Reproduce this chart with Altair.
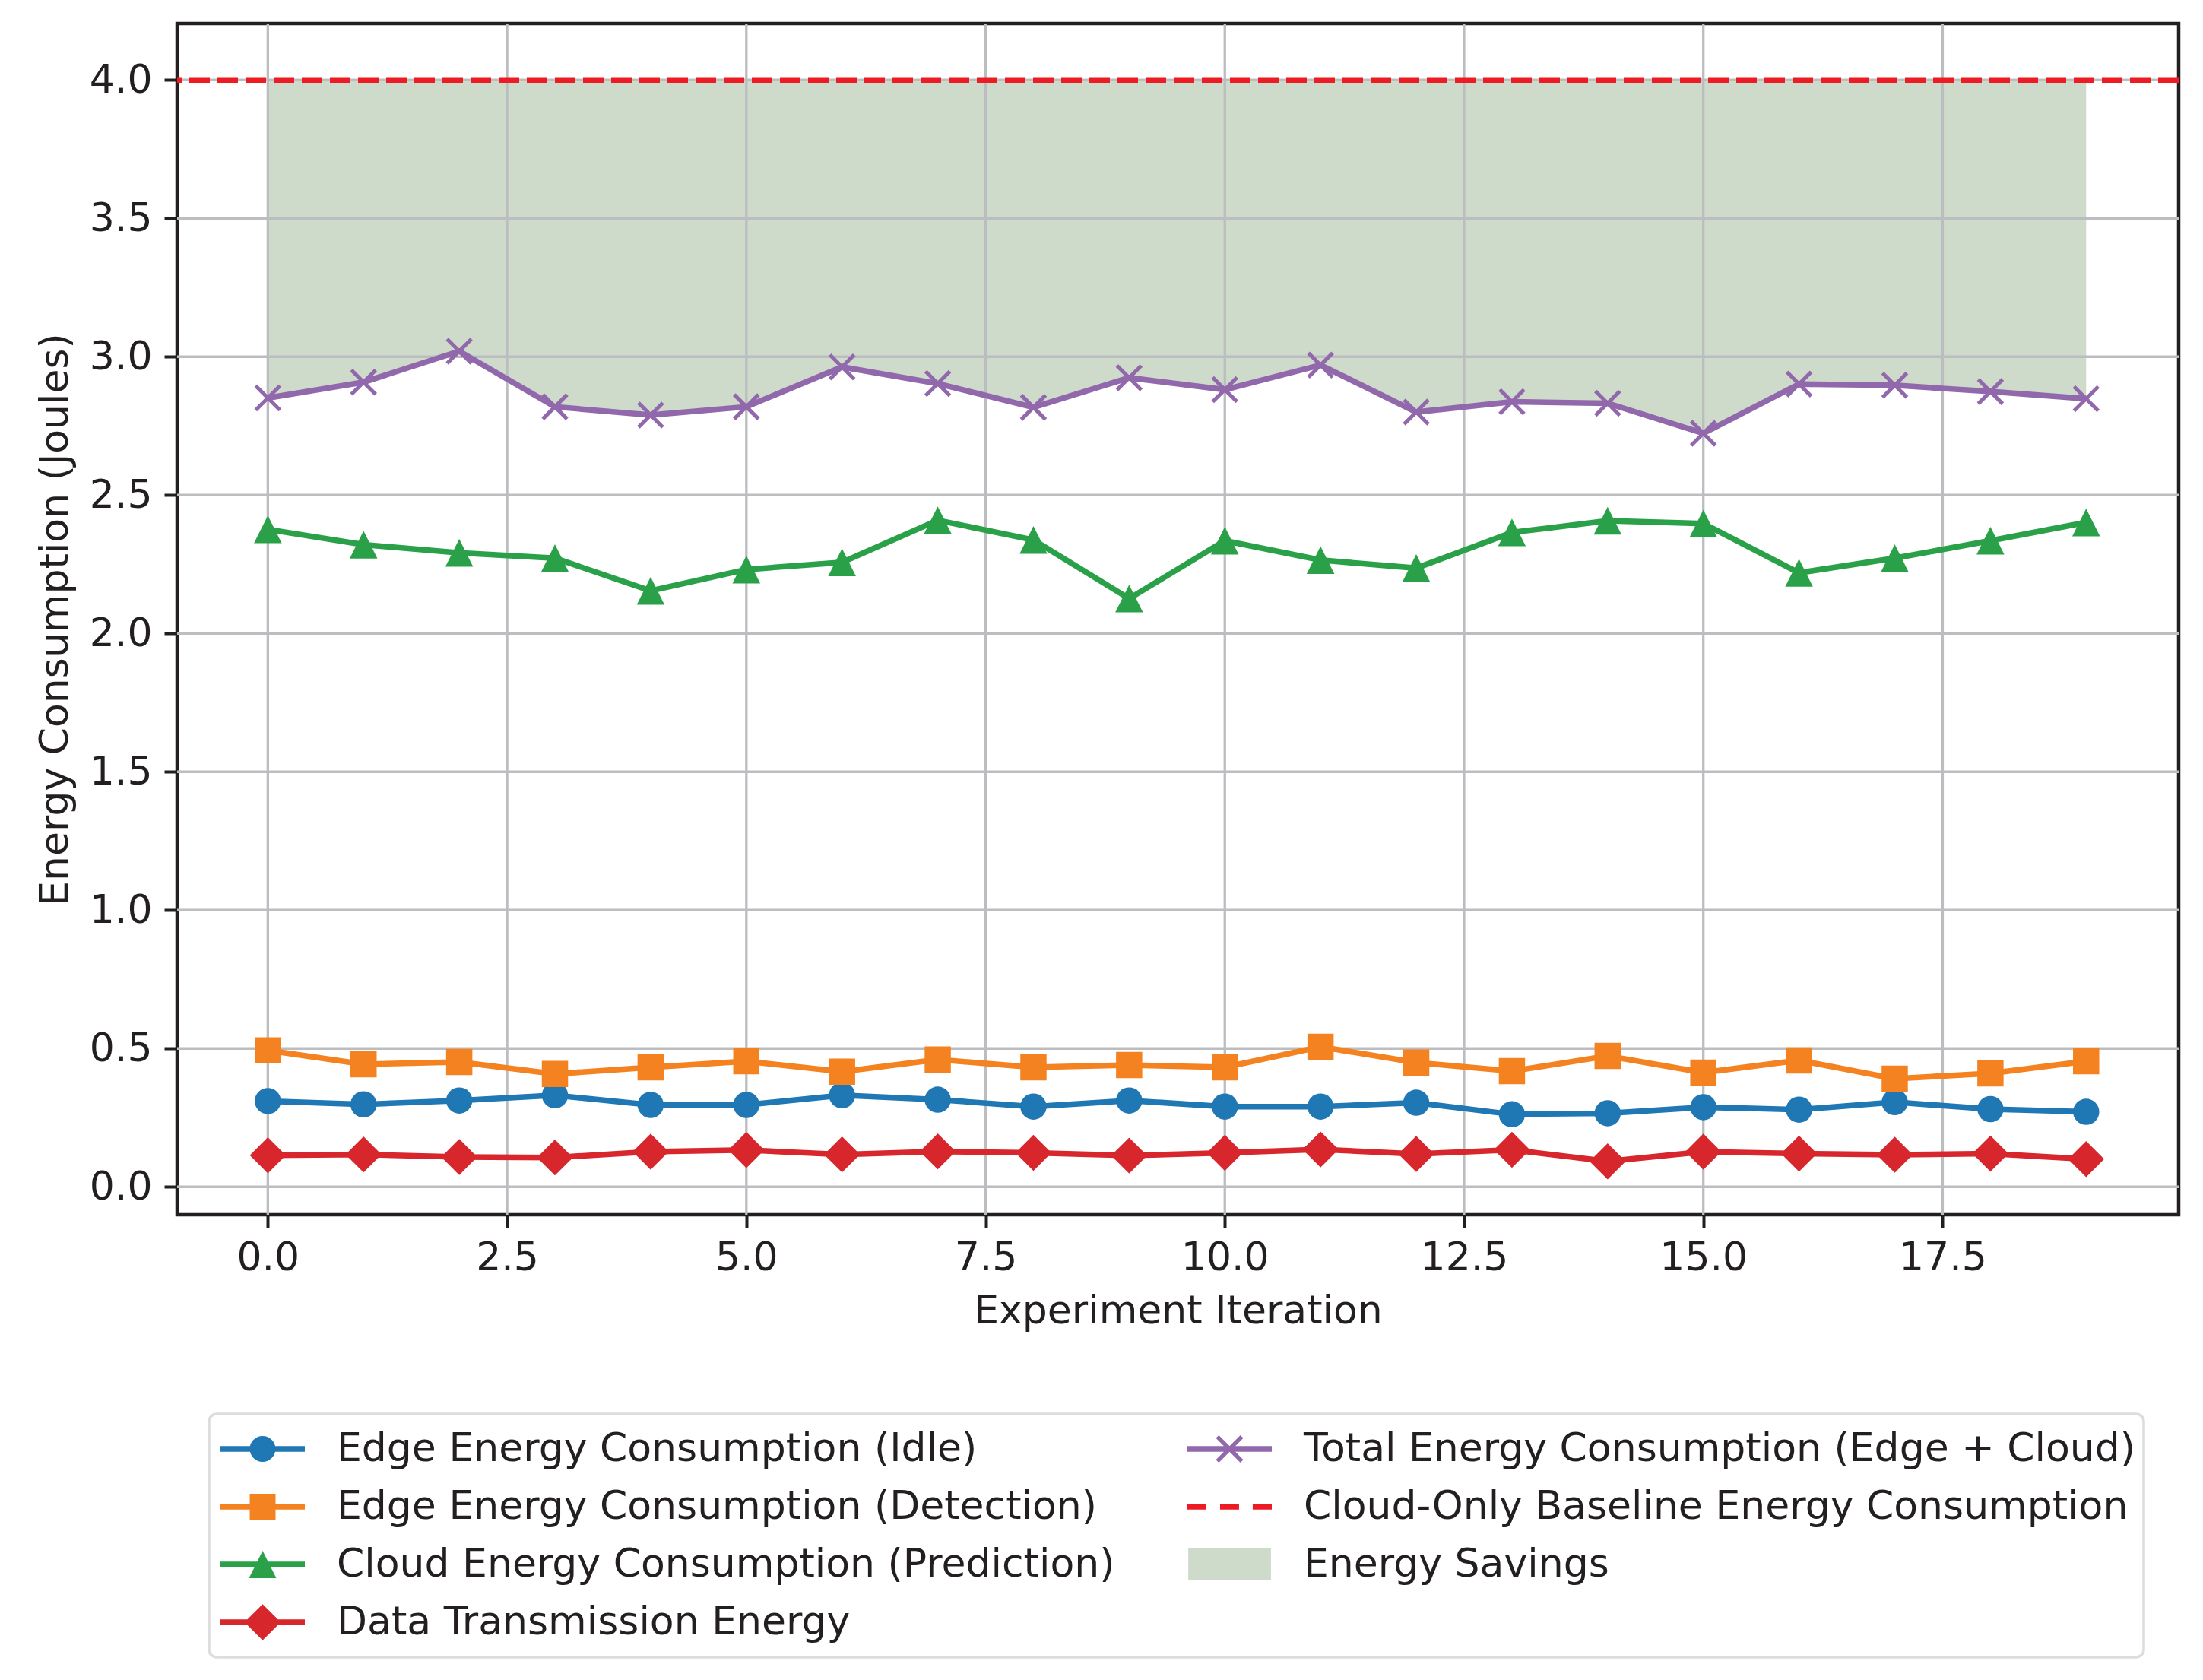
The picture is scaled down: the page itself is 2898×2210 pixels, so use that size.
import altair as alt
import pandas as pd

# ---------------- data ----------------
iterations = list(range(20))
idle = [0.310, 0.298, 0.312, 0.331, 0.296, 0.296, 0.331, 0.315, 0.290, 0.312,
        0.290, 0.290, 0.304, 0.262, 0.266, 0.288, 0.279, 0.306, 0.281, 0.271]
detection = [0.493, 0.443, 0.451, 0.408, 0.432, 0.454, 0.416, 0.460, 0.432, 0.440,
             0.432, 0.506, 0.449, 0.418, 0.473, 0.413, 0.457, 0.391, 0.410, 0.454]
cloud = [2.376, 2.321, 2.291, 2.272, 2.154, 2.231, 2.257, 2.409, 2.338, 2.126,
         2.335, 2.265, 2.236, 2.365, 2.407, 2.397, 2.219, 2.272, 2.335, 2.401]
transmission = [0.114, 0.117, 0.108, 0.106, 0.127, 0.133, 0.117, 0.128, 0.123, 0.113,
                0.123, 0.135, 0.119, 0.134, 0.092, 0.127, 0.120, 0.116, 0.120, 0.100]
total = [2.851, 2.908, 3.020, 2.819, 2.789, 2.819, 2.963, 2.903, 2.817, 2.924,
         2.881, 2.970, 2.800, 2.837, 2.832, 2.723, 2.901, 2.897, 2.874, 2.848]
baseline = 4.0

x_ticks = [0.0, 2.5, 5.0, 7.5, 10.0, 12.5, 15.0, 17.5]
y_ticks = [0.0, 0.5, 1.0, 1.5, 2.0, 2.5, 3.0, 3.5, 4.0]

label_idle = "Edge Energy Consumption (Idle)"
label_det = "Edge Energy Consumption (Detection)"
label_cloud = "Cloud Energy Consumption (Prediction)"
label_trans = "Data Transmission Energy"
label_total = "Total Energy Consumption (Edge + Cloud)"
label_base = "Cloud-Only Baseline Energy Consumption"
label_save = "Energy Savings"

# ---------------- styles ----------------
FONT = "DejaVu Sans"
TXT = "#231f20"
GRID = "#bcbdc0"
C_BLUE = "#1f77b4"
C_ORANGE = "#f58220"
C_GREEN = "#2aa149"
C_RED = "#d7262c"
C_PURPLE = "#9268ac"
C_BASE = "#ed1c24"
C_FILL = "#cedbca"
LW = 7.5

W, H = 2633, 1567

df = pd.DataFrame({
    "iteration": iterations,
    "idle": idle,
    "detection": detection,
    "cloud": cloud,
    "transmission": transmission,
    "total": total,
    "baseline": [baseline] * len(iterations),
})

x_scale = alt.Scale(domain=[-0.948, 19.967], nice=False, zero=False)
y_scale = alt.Scale(domain=[-0.101, 4.204], nice=False, zero=False)

x_axis = alt.Axis(
    values=x_ticks, format=".1f", grid=False, domain=False,
    tickSize=17, tickWidth=4, tickColor=TXT,
    labelFont=FONT, labelFontSize=52, labelColor=TXT, labelPadding=55,
    labelBaseline="alphabetic", labelFlush=False, labelOverlap=False,
    title="Experiment Iteration", titleFont=FONT, titleFontSize=52,
    titleFontWeight="normal", titleColor=TXT, titleX=W / 2, titleY=142,
    titleBaseline="alphabetic", titleAlign="center",
)
y_axis = alt.Axis(
    values=y_ticks, format=".1f", grid=False, domain=False,
    tickSize=17, tickWidth=4, tickColor=TXT,
    labelFont=FONT, labelFontSize=52, labelColor=TXT, labelPadding=16,
    labelBaseline="middle", labelFlush=False, labelOverlap=False,
    title="Energy Consumption (Joules)", titleFont=FONT, titleFontSize=52,
    titleFontWeight="normal", titleColor=TXT, titleX=-144.7, titleY=H / 2,
    titleAngle=270, titleBaseline="alphabetic", titleAlign="center",
)


def XE(field="iteration"):
    return alt.X(f"{field}:Q", scale=x_scale, axis=x_axis)


def YE(field):
    return alt.Y(f"{field}:Q", scale=y_scale, axis=y_axis)


# energy savings fill
area = alt.Chart(df).mark_area(color=C_FILL, opacity=1).encode(
    x=XE(), y=YE("total"), y2="baseline:Q",
)

# grid lines drawn above the fill (as in matplotlib)
vgrid = alt.Chart(pd.DataFrame({"gx": x_ticks})).mark_rule(
    color=GRID, strokeWidth=3.3
).encode(x=XE("gx"))
hgrid = alt.Chart(pd.DataFrame({"gy": y_ticks})).mark_rule(
    color=GRID, strokeWidth=3.3
).encode(y=YE("gy"))

# baseline dashed line
base_rule = alt.Chart(pd.DataFrame({"b": [baseline]})).mark_rule(
    color=C_BASE, strokeWidth=LW, strokeDash=[27, 10]
).encode(y=YE("b"))

TRI = "M0,-1L1,1L-1,1Z"
XSHAPE = "M-1,-1L1,1M-1,1L1,-1"


def series(field, color, shape, size):
    line = alt.Chart(df).mark_line(color=color, strokeWidth=LW).encode(
        x=XE(), y=YE(field)
    )
    pts = alt.Chart(df).mark_point(
        shape=shape, filled=True, color=color, size=size, opacity=1
    ).encode(x=XE(), y=YE(field))
    return [line, pts]


layers = [area, vgrid, hgrid, base_rule]
layers += series("idle", C_BLUE, "circle", 1190)
layers += series("detection", C_ORANGE, "square", 1190)
layers += series("cloud", C_GREEN, TRI, 1330)
layers += series("transmission", C_RED, "diamond", 2250)
layers += [
    alt.Chart(df).mark_line(color=C_PURPLE, strokeWidth=LW).encode(
        x=XE(), y=YE("total")
    ),
    alt.Chart(df).mark_point(
        shape=XSHAPE, filled=False, color=C_PURPLE, strokeWidth=5, size=1024, opacity=1
    ).encode(x=XE(), y=YE("total")),
]

# ---------------- legend (matplotlib-like handles as filled paths) ----------------
LINE = "M-1,-0.068H1V0.068H-1Z"
sym_idle = LINE + "M0.306,0A0.306,0.306,0,1,1,-0.306,0A0.306,0.306,0,1,1,0.306,0Z"
sym_det = LINE + "M-0.306,-0.306H0.306V0.306H-0.306Z"
sym_cloud = LINE + "M0,-0.324L0.324,0.324L-0.324,0.324Z"
sym_trans = LINE + "M0,-0.43L0.43,0L0,0.43L-0.43,0Z"
sym_total = (LINE + "M-0.255,-0.325L0.325,0.255L0.255,0.325L-0.325,-0.255Z"
             + "M-0.325,0.255L0.255,-0.325L0.325,-0.255L-0.255,0.325Z")
sym_base = ("M-1,-0.068H-0.55V0.068H-1Z"
            "M-0.226,-0.068H0.224V0.068H-0.226Z"
            "M0.548,-0.068H1V0.068H0.548Z")
sym_save = "M-0.98,-0.38H0.98V0.38H-0.98Z"

legend_order = [label_idle, label_det, label_cloud, label_trans, label_total, label_base, label_save]
legend_colors = [C_BLUE, C_ORANGE, C_GREEN, C_RED, C_PURPLE, C_BASE, C_FILL]
legend_shapes = [sym_idle, sym_det, sym_cloud, sym_trans, sym_total, sym_base, sym_save]

leg = alt.Legend(
    title=None, orient="none", legendX=42, legendY=1829, columns=2,
    columnPadding=90, rowPadding=4, clipHeight=72, padding=10,
    symbolSize=12321, symbolStrokeWidth=0, symbolOpacity=1, symbolOffset=5,
    labelFont=FONT, labelFontSize=52, labelColor=TXT, labelOffset=42,
    labelLimit=3000, gridAlign="each",
)

legend_layer = alt.Chart(pd.DataFrame({"series": legend_order})).mark_point(
    filled=True, opacity=1, size=12321
).encode(
    color=alt.Color("series:N", scale=alt.Scale(domain=legend_order, range=legend_colors), legend=leg),
    shape=alt.Shape("series:N", scale=alt.Scale(domain=legend_order, range=legend_shapes), legend=leg),
).transform_filter("false")

layers.append(legend_layer)

chart = alt.layer(*layers).properties(
    width=W, height=H,
    autosize=alt.AutoSizeParams(type="none"),
    padding={"left": 225, "top": 23, "right": 24, "bottom": 604},
    background="white",
).configure_view(
    stroke=TXT, strokeWidth=4.5
).configure_legend(
    strokeColor="#dcddde", strokeWidth=3.5, cornerRadius=10, fillColor="white"
)

chart.save("out.html", embed_options={"renderer": "svg", "actions": False})
